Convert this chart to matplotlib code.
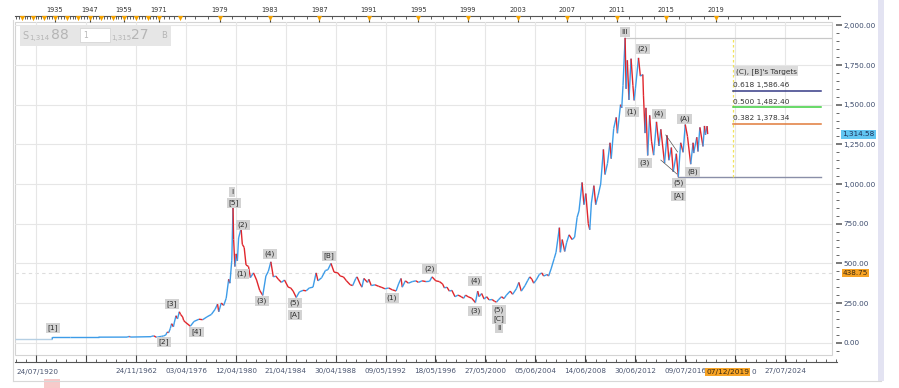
import numpy as np
import pandas as pd
import matplotlib
matplotlib.use("Agg")
import matplotlib.pyplot as plt
from matplotlib.collections import LineCollection
from matplotlib.patches import Rectangle
from matplotlib.ticker import FixedLocator, MultipleLocator, FuncFormatter
import matplotlib.transforms as mtransforms

plt.rcParams['font.family'] = ['DejaVu Sans']

# ---------------- data ----------------
dates = [1920.56, 1934.0, 1934.05, 1940.0, 1950.0, 1960.0, 1960.8, 1961.0, 1968.2, 1968.5,
         1969.2, 1970.0, 1970.5, 1971.0, 1971.5, 1971.9, 1972.3, 1972.6, 1972.9, 1973.2,
         1973.45, 1973.8, 1974.0, 1974.3, 1974.6, 1974.95, 1975.2, 1975.6, 1975.8, 1976.1,
         1976.6, 1976.9, 1977.3, 1977.6, 1977.95, 1978.3, 1978.6, 1978.8, 1978.9, 1979.1,
         1979.3, 1979.5, 1979.7, 1979.8, 1979.95, 1980.05, 1980.1, 1980.2, 1980.3, 1980.4,
         1980.5, 1980.7, 1980.8, 1980.95, 1981.1, 1981.3, 1981.45, 1981.7, 1981.95, 1982.2,
         1982.45, 1982.7, 1982.9, 1983.1, 1983.3, 1983.5, 1983.7, 1983.95, 1984.2, 1984.5,
         1984.7, 1984.9, 1985.15, 1985.4, 1985.7, 1985.95, 1986.2, 1986.5, 1986.75, 1986.9,
         1987.2, 1987.5, 1987.7, 1987.95, 1988.2, 1988.5, 1988.7, 1988.95, 1989.2, 1989.5,
         1989.7, 1989.95, 1990.05, 1990.3, 1990.45, 1990.6, 1990.9, 1991.0, 1991.2, 1991.5,
         1991.8, 1992.0, 1992.3, 1992.6, 1992.9, 1993.2, 1993.4, 1993.6, 1993.7, 1993.95,
         1994.2, 1994.5, 1994.8, 1995.0, 1995.3, 1995.6, 1995.9, 1996.1, 1996.4, 1996.7,
         1996.95, 1997.1, 1997.3, 1997.5, 1997.7, 1997.95, 1998.2, 1998.45, 1998.65, 1998.8,
         1999.0, 1999.3, 1999.6, 1999.78, 1999.9, 2000.1, 2000.3, 2000.5, 2000.7, 2000.95,
         2001.15, 2001.3, 2001.45, 2001.7, 2001.9, 2002.1, 2002.4, 2002.6, 2002.9, 2003.1,
         2003.3, 2003.6, 2003.8, 2003.98, 2004.15, 2004.3, 2004.5, 2004.75, 2004.95, 2005.1,
         2005.4, 2005.5, 2005.7, 2005.95, 2006.1, 2006.37, 2006.45, 2006.6, 2006.8, 2006.95,
         2007.15, 2007.4, 2007.6, 2007.8, 2007.95, 2008.2, 2008.35, 2008.5, 2008.7, 2008.82,
         2008.95, 2009.15, 2009.3, 2009.5, 2009.7, 2009.92, 2010.05, 2010.25, 2010.45, 2010.55,
         2010.75, 2010.95, 2011.05, 2011.3, 2011.4, 2011.5, 2011.67, 2011.75, 2011.85, 2011.98,
         2012.15, 2012.3, 2012.4, 2012.5, 2012.75, 2012.9, 2013.1, 2013.15, 2013.28, 2013.35,
         2013.49, 2013.65, 2013.8, 2013.97, 2014.2, 2014.4, 2014.55, 2014.85, 2015.05, 2015.2,
         2015.4, 2015.55, 2015.8, 2015.96, 2016.15, 2016.35, 2016.52, 2016.7, 2016.96, 2017.15,
         2017.2, 2017.45, 2017.55, 2017.7, 2017.95, 2018.07, 2018.15, 2018.28, 2018.33]
prices = [20.67, 20.67, 35.0, 35.0, 35.0, 35.3, 40.0, 35.5, 38.0, 41.0,
          43.0, 35.0, 35.5, 37.4, 40.0, 43.0, 48.0, 67.0, 64.0, 90.0,
          120.0, 100.0, 130.0, 170.0, 150.0, 195.0, 178.0, 162.0, 140.0, 130.0,
          104.0, 134.0, 148.0, 145.0, 163.0, 178.0, 210.0, 243.0, 195.0, 250.0,
          235.0, 280.0, 400.0, 375.0, 520.0, 850.0, 650.0, 480.0, 560.0, 515.0,
          660.0, 720.0, 620.0, 600.0, 490.0, 480.0, 410.0, 440.0, 395.0, 330.0,
          298.0, 420.0, 450.0, 510.0, 415.0, 420.0, 400.0, 380.0, 395.0, 350.0,
          345.0, 325.0, 285.0, 320.0, 330.0, 327.0, 345.0, 350.0, 440.0, 390.0,
          410.0, 455.0, 460.0, 500.0, 445.0, 440.0, 420.0, 415.0, 390.0, 365.0,
          360.0, 405.0, 415.0, 370.0, 350.0, 405.0, 380.0, 400.0, 360.0, 365.0,
          355.0, 350.0, 340.0, 345.0, 333.0, 326.0, 370.0, 405.0, 350.0, 390.0,
          375.0, 385.0, 390.0, 380.0, 390.0, 385.0, 387.0, 415.0, 390.0, 385.0,
          370.0, 345.0, 350.0, 325.0, 330.0, 290.0, 300.0, 290.0, 280.0, 300.0,
          290.0, 280.0, 253.0, 325.0, 290.0, 310.0, 275.0, 290.0, 270.0, 272.0,
          260.0, 256.0, 270.0, 290.0, 278.0, 300.0, 325.0, 305.0, 340.0, 380.0,
          325.0, 360.0, 390.0, 415.0, 400.0, 375.0, 395.0, 430.0, 440.0, 420.0,
          430.0, 420.0, 465.0, 530.0, 570.0, 725.0, 570.0, 650.0, 575.0, 630.0,
          680.0, 650.0, 665.0, 790.0, 830.0, 1010.0, 870.0, 940.0, 750.0, 712.0,
          880.0, 990.0, 870.0, 930.0, 1000.0, 1218.0, 1060.0, 1130.0, 1260.0, 1160.0,
          1350.0, 1420.0, 1320.0, 1500.0, 1480.0, 1620.0, 1921.0, 1600.0, 1780.0, 1530.0,
          1790.0, 1620.0, 1527.0, 1600.0, 1795.0, 1680.0, 1690.0, 1560.0, 1321.0, 1480.0,
          1180.0, 1433.0, 1270.0, 1182.0, 1392.0, 1240.0, 1345.0, 1132.0, 1307.0, 1150.0,
          1230.0, 1077.0, 1191.0, 1046.0, 1260.0, 1200.0, 1375.0, 1300.0, 1125.0, 1260.0,
          1195.0, 1295.0, 1205.0, 1357.0, 1237.0, 1366.0, 1310.0, 1365.0, 1314.58]

wave_text = ["[1]", "[2]", "[3]", "[4]", "I", "[5]", "(2)", "(1)", "(4)", "(3)",
             "(5)", "[A]", "[B]", "(1)", "(2)", "(4)", "(3)", "(5)", "[C]", "II",
             "III", "(2)", "(1)", "(4)", "(3)", "(A)", "(B)", "(5)", "[A]"]
wave_year = [1934.3, 1972.0, 1973.5, 1977.1, 1979.97, 1980.13, 1980.85, 1980.77, 1983.03, 1982.38,
             1985.04, 1985.04, 1987.78, 1992.85, 1995.9, 1999.6, 1999.6, 2001.5, 2001.5, 2001.5,
             2011.64, 2013.09, 2012.2, 2014.38, 2013.25, 2016.47, 2017.12, 2015.99, 2015.99]
wave_price = [93, 4, 244, 67, 950, 880, 742, 433, 559, 263,
              250, 175, 546, 282, 464, 389, 200, 205, 149, 92,
              1958, 1851, 1454, 1441, 1132, 1409, 1075, 1006, 924]

fib_low, fib_high = 1041.47, 1923.33
fib_levels = [0.618, 0.500, 0.382]
fib_colors = ['#353a86', '#3fcf3f', '#e07a3a']
fib_x = [2020.4, 2027.45]
peak_line = [2011.67, 2028.4, 1921.0]
low_line = [2015.96, 2027.45, 1044.0]
trend_lines = [([2014.95, 2015.9], [1309, 1202]), ([2014.55, 2015.85], [1151, 1063])]
last_price = 1314.58
cross_price = 438.75
cross_date = "07/12/2019"

top_label_years = [1935, 1947, 1959, 1971, 1979, 1983, 1987, 1991, 1995, 1999, 2003, 2007, 2011, 2015, 2019]
bottom_labels = ['24/11/1962', '03/04/1976', '12/04/1980', '21/04/1984', '30/04/1988', '09/05/1992',
                 '18/05/1996', '27/05/2000', '05/06/2004', '14/06/2008', '30/06/2012', '09/07/2016',
                 '18/07/2020', '27/07/2024']
hidden_label = '18/07/2020'   # mostly covered by the crosshair date; only its last "0" shows
first_label = '24/07/1920'

# --------------- layout helpers ---------------
W, H = 899, 388
def fx(x): return x / W
def fy(y): return 1 - y / H

# time axis (bar-index like, compressed before the 1970s)
A_Y = np.array([1900.0, 1920.56, 1935, 1947, 1959, 1962.9, 1971, 1976.25, 1979, 2019, 2040])
A_P = np.array([15 - 20.56 * 2.76, 15, 55, 90, 124, 136, 159, 186, 220, 716, 716 + 21 * 12.4])
def fwd(v): return np.interp(v, A_Y, A_P)
def inv(p): return np.interp(p, A_P, A_Y)

def dec_year(s):
    d = pd.to_datetime(s, dayfirst=True)
    return d.year + (d.dayofyear - 1) / 365.25

fig = plt.figure(figsize=(W / 100, H / 100), dpi=100)
fig.patch.set_facecolor('white')

L, R, T, B = 15, 832, 22, 355
ax = fig.add_axes([fx(L), fy(B), (R - L) / W, (B - T) / H])
ax.set_xscale('function', functions=(fwd, inv))
ax.set_xlim(inv(L), inv(R))
ax.set_ylim(-77.5, 2021)
for s in ax.spines.values():
    s.set_visible(False)
ax.spines['right'].set_position(('outward', 3.0))
ax.add_patch(Rectangle((0, 0), 1, 1, transform=ax.transAxes, fill=False, ec='#d4d4d4', lw=0.8,
                       clip_on=False, zorder=0))

# grid
grid_years = list(inv(np.array([36, 86]))) + [dec_year(s) for s in bottom_labels]
ax.xaxis.set_major_locator(FixedLocator(grid_years))
ax.tick_params(axis='x', which='both', bottom=False, top=False, labelbottom=False)
ax.yaxis.tick_right()
ax.yaxis.set_major_locator(MultipleLocator(250))
ax.yaxis.set_minor_locator(MultipleLocator(50))
ax.yaxis.set_major_formatter(FuncFormatter(lambda v, p: f"{v:,.2f}"))
ax.tick_params(axis='y', which='major', direction='out', length=4, width=1.1, color='#555555',
               labelsize=5.2, labelcolor='#3b4a6b', pad=1.2)
ax.tick_params(axis='y', which='minor', direction='out', length=2.2, width=0.7, color='#666666')
ax.grid(True, which='major', color='#e6e6e6', lw=0.8, zorder=0)

# crosshair horizontal
ax.axhline(cross_price, color='#dddddd', lw=0.8, ls=(0, (3, 3)), zorder=1)

# price line, blue up / red down
d = np.array(dates); p = np.array(prices)
segs = [[(d[i], p[i]), (d[i + 1], p[i + 1])] for i in range(len(d) - 1)]
cols = []
for i in range(len(d) - 1):
    if d[i + 1] <= 1934.0:
        cols.append('#b5cfe3')
    elif p[i + 1] < p[i]:
        cols.append('#e0262c')
    else:
        cols.append('#3d9ce8')
lc = LineCollection(segs, colors=cols, linewidths=1.0, zorder=3)
ax.add_collection(lc)

# wave labels
for t, xv, yv in zip(wave_text, wave_year, wave_price):
    ax.text(xv, yv, t, ha='center', va='center', fontsize=5.3, color='#2a2a2a', zorder=5,
            bbox=dict(boxstyle='square,pad=0.25', fc='#d3d3d3', ec='none'))

# horizontal tool lines
ax.plot(peak_line[:2], [peak_line[2]] * 2, color='#c8c8c8', lw=0.9, zorder=2)
ax.plot(low_line[:2], [low_line[2]] * 2, color='#8a8fa8', lw=1.0, zorder=2)
for xs, ys in trend_lines:
    ax.plot(xs, ys, color='#555555', lw=0.5, zorder=4)

# fibonacci targets
ax.plot([fib_x[0]] * 2, [fib_low, fib_high], color='#f2e35a', lw=0.9, ls=(0, (2, 2)), zorder=2)
for lev, c in zip(fib_levels, fib_colors):
    val = fib_low + lev * (fib_high - fib_low)
    ax.plot(fib_x, [val, val], color=c, lw=1.1, zorder=3)
    ax.text(fib_x[0], val + 35, f"{lev:.3f} {val:,.2f}", ha='left', va='center', fontsize=5.3,
            color='#333333', zorder=5)
ax.text(fib_x[0] + 0.2, fib_low + 0.72 * (fib_high - fib_low) + 35, "(C), [B]'s Targets",
        ha='left', va='center', fontsize=5.3, color='#333333', zorder=5,
        bbox=dict(boxstyle='square,pad=0.2', fc='#dcdcdc', ec='none'))

# right side price labels
trans = mtransforms.blended_transform_factory(ax.transAxes, ax.transData)
ax.text(1.0 + 10 / (R - L), last_price, f"{last_price:,.2f}", transform=trans, ha='left', va='center',
        fontsize=5.2, color='#1d2f55', zorder=6, clip_on=False,
        bbox=dict(boxstyle='square,pad=0.2', fc='#62c6f2', ec='none'))
ax.text(1.0 + 11 / (R - L), cross_price, f"{cross_price:,.2f}", transform=trans, ha='left', va='center',
        fontsize=5.2, color='#3b2a10', zorder=6, clip_on=False,
        bbox=dict(boxstyle='square,pad=0.15', fc='#f7a325', ec='none'))

# ---------------- top time strip ----------------
tax = fig.add_axes([fx(L), fy(22), (840 - L) / W, (22 - 15.5) / H])
tax.set_xscale('function', functions=(fwd, inv))
tax.set_xlim(inv(L), inv(840))
tax.set_ylim(0, 1)
tax.patch.set_alpha(0)
for k, s in tax.spines.items():
    s.set_visible(k == 'top')
tax.spines['top'].set_color('#555555')
tax.spines['top'].set_linewidth(0.8)
tax.yaxis.set_visible(False)
tax.xaxis.tick_top()
orange_years = np.arange(1923, 2020, 4)
tax.xaxis.set_major_locator(FixedLocator(top_label_years))
tax.xaxis.set_minor_locator(FixedLocator(np.arange(1921, 2029, 1)))
tax.xaxis.set_major_formatter(FuncFormatter(lambda v, p: f"{int(round(v))}"))
tax.tick_params(axis='x', which='major', direction='in', length=4, width=0.8, color='#444444',
                labelsize=4.8, labelcolor='#333333', pad=2)
tax.tick_params(axis='x', which='minor', direction='in', length=2, width=0.6, color='#444444')
tax.scatter(orange_years, np.full(len(orange_years), 0.62), marker='v', s=14, color='#f5a300',
            zorder=5, clip_on=False, linewidths=0)

# ---------------- bottom time strip ----------------
bax = fig.add_axes([fx(L), fy(362), (837 - L) / W, (362 - 355) / H])
bax.set_xscale('function', functions=(fwd, inv))
bax.set_xlim(inv(L), inv(837))
bax.set_ylim(0, 1)
bax.patch.set_alpha(0)
for k, s in bax.spines.items():
    s.set_visible(k == 'bottom')
bax.spines['bottom'].set_color('#555555')
bax.spines['bottom'].set_linewidth(0.8)
bax.yaxis.set_visible(False)
bax.xaxis.set_major_locator(FixedLocator(grid_years))
labels_all = ['', ''] + [('' if s == hidden_label else s) for s in bottom_labels]
bax.xaxis.set_major_formatter(FuncFormatter(lambda v, pos: labels_all[pos] if pos is not None and pos < len(labels_all) else ''))
bax.xaxis.set_minor_locator(FixedLocator(inv(np.arange(16, 837, 10))))
bax.tick_params(axis='x', which='major', direction='in', length=5, width=0.8, color='#444444',
                labelsize=5.2, labelcolor='#4a5570', pad=4)
bax.tick_params(axis='x', which='minor', direction='in', length=2.5, width=0.6, color='#444444')
fig.text(fx(16), fy(372), first_label, ha='left', va='center', fontsize=5.2, color='#4a5570')
# visible tail of the covered label
hx = fwd(dec_year(hidden_label))
fig.text(fx(hx + 21), fy(372), hidden_label[-1], ha='right', va='center', fontsize=5.2, color='#4a5570')
cx = fx(fwd(dec_year(cross_date)))
fig.text(cx, fy(372), cross_date, ha='center', va='center', fontsize=5.4, color='#3b2a10', zorder=10,
         bbox=dict(boxstyle='square,pad=0.12', fc='#f7a325', ec='none'))

# ---------------- frame decorations ----------------
fig.add_artist(plt.Line2D([fx(13), fx(13)], [fy(20), fy(381)], color='#d8d8d8', lw=0.8))
fig.add_artist(plt.Line2D([fx(13), fx(881)], [fy(381), fy(381)], color='#d8d8d8', lw=0.8))
fig.add_artist(Rectangle((fx(878), fy(381)), 6 / W, 381 / H, transform=fig.transFigure,
                         fc='#e3e3f2', ec='none'))
fig.add_artist(Rectangle((fx(44), fy(388)), 16 / W, 9 / H, transform=fig.transFigure,
                         fc='#f7caca', ec='none'))

# top-left order widget
fig.add_artist(Rectangle((fx(20), fy(46)), 151 / W, 21 / H, transform=fig.transFigure,
                         fc='#e6e6e6', ec='none', zorder=8))
fig.add_artist(Rectangle((fx(80), fy(42)), 30 / W, 14 / H, transform=fig.transFigure,
                         fc='white', ec='#d0d0d0', lw=0.5, zorder=9))
wc = '#b5b5b5'
fig.text(fx(22), fy(36), "S", fontsize=7, color=wc, va='center', zorder=10)
fig.text(fx(29), fy(38), "1,314", fontsize=5, color=wc, va='center', zorder=10)
fig.text(fx(51), fy(35), "88", fontsize=10, color=wc, va='center', zorder=10)
fig.text(fx(83), fy(35), "1", fontsize=5.5, color=wc, va='center', zorder=10)
fig.text(fx(111), fy(38), "1,315", fontsize=5, color=wc, va='center', zorder=10)
fig.text(fx(131), fy(35), "27", fontsize=10, color=wc, va='center', zorder=10)
fig.text(fx(161), fy(36), "B", fontsize=6, color=wc, va='center', zorder=10)

fig.savefig("out.png", dpi=100, facecolor='white')
